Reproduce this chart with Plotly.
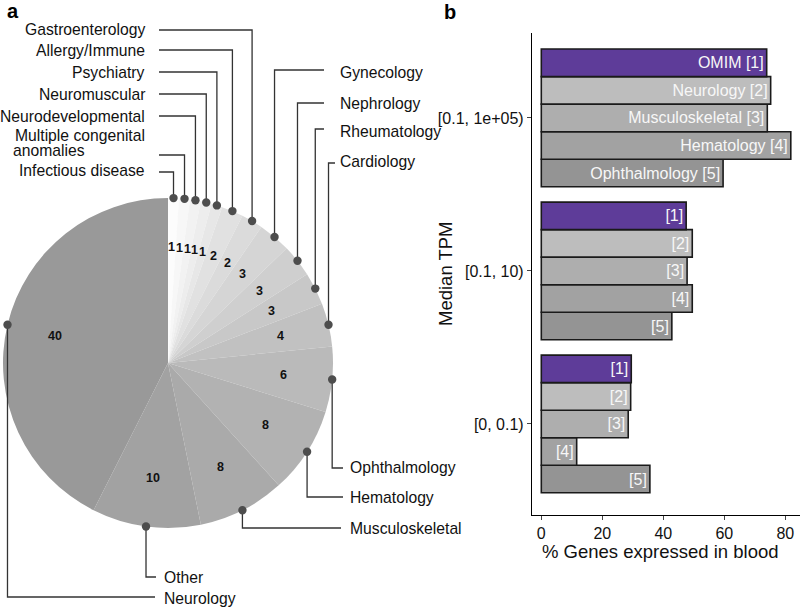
import numpy as np
import plotly.graph_objects as go

# ---------------- data ----------------
specialties = ["Infectious disease", "Multiple congenital anomalies", "Neurodevelopmental",
               "Neuromuscular", "Psychiatry", "Allergy/Immune", "Gastroenterology",
               "Gynecology", "Nephrology", "Rheumatology", "Cardiology", "Ophthalmology",
               "Hematology", "Musculoskeletal", "Other", "Neurology"]
specialty_pct = [1, 1, 1, 1, 1, 2, 2, 3, 3, 3, 4, 6, 8, 8, 10, 40]

tpm_bins = ["[0, 0.1)", "[0.1, 10)", "[0.1, 1e+05)"]
gene_sets = ["OMIM", "Neurology", "Musculoskeletal", "Hematology", "Ophthalmology"]
pct_omim = [29.5, 47.5, 73.9]
pct_neurology = [29.3, 49.5, 75.2]
pct_musculoskeletal = [28.5, 47.8, 74.1]
pct_hematology = [11.6, 49.5, 81.8]
pct_ophthalmology = [35.6, 42.8, 59.6]
x_ticks = [0, 20, 40, 60, 80]

# ---------------- layout constants ----------------
W, H = 800, 608
FONT = "Liberation Sans, Arial, Helvetica, sans-serif"
LABEL_SIZE = 15.7
cx, cy, R = 168, 363, 165          # pie centre / radius in pixels

# label placement: (text x, text y, anchor, line y, elbow x)
label_layout = [
    (147, 170, "right", 172, 159),   # Infectious disease
    (147, 135, "right", 155, 159),   # Multiple congenital anomalies
    (147, 116, "right", 116, 159),   # Neurodevelopmental
    (147, 94, "right", 94, 159),     # Neuromuscular
    (147, 72, "right", 72, 159),     # Psychiatry
    (147, 50, "right", 50, 159),     # Allergy/Immune
    (147, 29, "right", 30, 159),     # Gastroenterology
    (338, 72, "left", 70, 324),      # Gynecology
    (338, 103, "left", 103, 324),    # Nephrology
    (338, 131, "left", 129, 324),    # Rheumatology
    (338, 161, "left", 163, 335),    # Cardiology
    (348, 467, "left", 468, 343),    # Ophthalmology
    (348, 497, "left", 497, 343),    # Hematology
    (348, 528, "left", 528, 341),    # Musculoskeletal
    (162, 577, "left", 577, 156),    # Other
    (162, 598, "left", 597, 155),    # Neurology
]

# grey fill ramp (gamma corrected like R grey.colors)
n = len(specialty_pct)
g_lo, g_hi = 0.6 ** 2.2, 0.99 ** 2.2
pie_colors = []
for i in range(n):
    k = n - 1 - i
    v = (g_lo + k * (g_hi - g_lo) / (n - 1)) ** (1 / 2.2)
    c = int(round(v * 255))
    pie_colors.append(f"rgb({c},{c},{c})")

fig = go.Figure()

# ---------------- pie (a) ----------------
fig.add_trace(go.Pie(
    labels=specialties, values=specialty_pct, sort=False, direction="clockwise",
    rotation=0, textinfo="none", hoverinfo="label+value",
    marker=dict(colors=pie_colors, line=dict(width=0)),
    domain=dict(x=[(cx - R) / W, (cx + R) / W], y=[1 - (cy + R) / H, 1 - (cy - R) / H]),
    showlegend=False,
))

# ---------------- bars (b) ----------------
bar_series = [pct_omim, pct_neurology, pct_musculoskeletal, pct_hematology, pct_ophthalmology]
bar_colors = ["#5e3c99", "#bdbdbd", "#aeaeae", "#a2a2a2", "#949494"]
for idx in reversed(range(len(gene_sets))):
    vals = bar_series[idx]
    texts = []
    for j, b in enumerate(tpm_bins):
        if b == "[0.1, 1e+05)":
            texts.append(f"{gene_sets[idx]} [{idx + 1}]")
        else:
            texts.append(f"[{idx + 1}]")
    fig.add_trace(go.Bar(
        x=vals, y=tpm_bins, orientation="h", name=gene_sets[idx],
        marker=dict(color=bar_colors[idx], line=dict(color="#1a1a1a", width=1.6)),
        text=texts, textposition="inside", insidetextanchor="end", textangle=0,
        constraintext="none",
        insidetextfont=dict(family=FONT, size=16, color="#f7f7f7"),
        showlegend=False, xaxis="x", yaxis="y",
    ))

# ---------------- pie annotations / connectors ----------------
total = float(sum(specialty_pct))
mid = np.cumsum(specialty_pct) - np.array(specialty_pct) / 2.0
ang = np.deg2rad(mid / total * 360.0)
dot_x = cx + R * np.sin(ang)
dot_y = cy - R * np.cos(ang)
num_x = cx + 0.703 * R * np.sin(ang)
num_y = cy - 0.703 * R * np.cos(ang)

shapes = []
annotations = []
for i, name in enumerate(specialties):
    tx, ty, anch, ly, ex = label_layout[i]
    shapes.append(dict(type="path", xref="x2", yref="y2", layer="above",
                       path=f"M {dot_x[i]:.2f},{dot_y[i]:.2f} L {dot_x[i]:.2f},{ly} L {ex},{ly}",
                       line=dict(color="#333333", width=1.3)))
    shapes.append(dict(type="circle", xref="x2", yref="y2", layer="above",
                       x0=dot_x[i] - 4.2, x1=dot_x[i] + 4.2, y0=dot_y[i] - 4.2, y1=dot_y[i] + 4.2,
                       fillcolor="#4d4d4d", line=dict(width=0)))
    if name == "Multiple congenital anomalies":
        annotations.append(dict(x=tx, y=ty, xref="x2", yref="y2", text="Multiple congenital",
                                xanchor="right", yanchor="middle", showarrow=False,
                                font=dict(family=FONT, size=LABEL_SIZE, color="#111")))
        annotations.append(dict(x=tx, y=ty + 15, xref="x2", yref="y2", text="anomalies",
                                xanchor="right", yanchor="middle", showarrow=False,
                                xshift=-(130.0 - 69.5),
                                font=dict(family=FONT, size=LABEL_SIZE, color="#111")))
    else:
        annotations.append(dict(x=tx, y=ty, xref="x2", yref="y2", text=name,
                                xanchor=anch, yanchor="middle", showarrow=False,
                                font=dict(family=FONT, size=LABEL_SIZE, color="#111")))
    annotations.append(dict(x=num_x[i], y=num_y[i], xref="x2", yref="y2",
                            text=f"<b>{specialty_pct[i]}</b>", showarrow=False,
                            xanchor="center", yanchor="middle",
                            font=dict(family=FONT, size=12.5, color="#111")))

# panel letters and axis titles
annotations += [
    dict(x=13, y=11, xref="x2", yref="y2", text="<b>a</b>", showarrow=False,
         xanchor="center", yanchor="middle", font=dict(family=FONT, size=20, color="#000")),
    dict(x=450, y=12, xref="x2", yref="y2", text="<b>b</b>", showarrow=False,
         xanchor="center", yanchor="middle", font=dict(family=FONT, size=20, color="#000")),
    dict(x=660, y=551, xref="x2", yref="y2", text="% Genes expressed in blood", showarrow=False,
         xanchor="center", yanchor="middle", font=dict(family=FONT, size=18.5, color="#111")),
    dict(x=445, y=274, xref="x2", yref="y2", text="Median TPM", showarrow=False, textangle=-90,
         xanchor="center", yanchor="middle", font=dict(family=FONT, size=18.5, color="#111")),
]

x0_px, zero_px, px_per = 532, 541.3, 3.05
fig.update_layout(
    width=W, height=H, margin=dict(l=0, r=0, t=0, b=0),
    paper_bgcolor="white", plot_bgcolor="rgba(0,0,0,0)",
    barmode="group", bargap=0.1, bargroupgap=0,
    font=dict(family=FONT, color="#111"),
    xaxis=dict(domain=[x0_px / W, 1], range=[(x0_px - zero_px) / px_per, (W - zero_px) / px_per],
               anchor="y", showline=True, linecolor="#000", linewidth=1.2,
               ticks="outside", ticklen=4, tickcolor="#444", tickvals=x_ticks,
               tickfont=dict(family=FONT, size=16, color="#111"),
               showgrid=False, zeroline=False, fixedrange=True),
    yaxis=dict(domain=[1 - 515 / H, 1 - 33.3 / H], type="category",
               categoryorder="array", categoryarray=tpm_bins,
               range=[-0.595, 2.553], anchor="x", showline=True, linecolor="#000", linewidth=1.2,
               ticks="outside", ticklen=4, tickcolor="#444",
               tickfont=dict(family=FONT, size=16, color="#111"),
               showgrid=False, zeroline=False, fixedrange=True),
    xaxis2=dict(domain=[0, 1], range=[0, W], anchor="y2", visible=False, fixedrange=True),
    yaxis2=dict(domain=[0, 1], range=[H, 0], anchor="x2", visible=False, fixedrange=True),
    shapes=shapes, annotations=annotations,
)

fig.write_html("out.html", config={"displayModeBar": False},
               post_script="document.body.style.margin='0px';document.body.style.overflow='hidden';")
